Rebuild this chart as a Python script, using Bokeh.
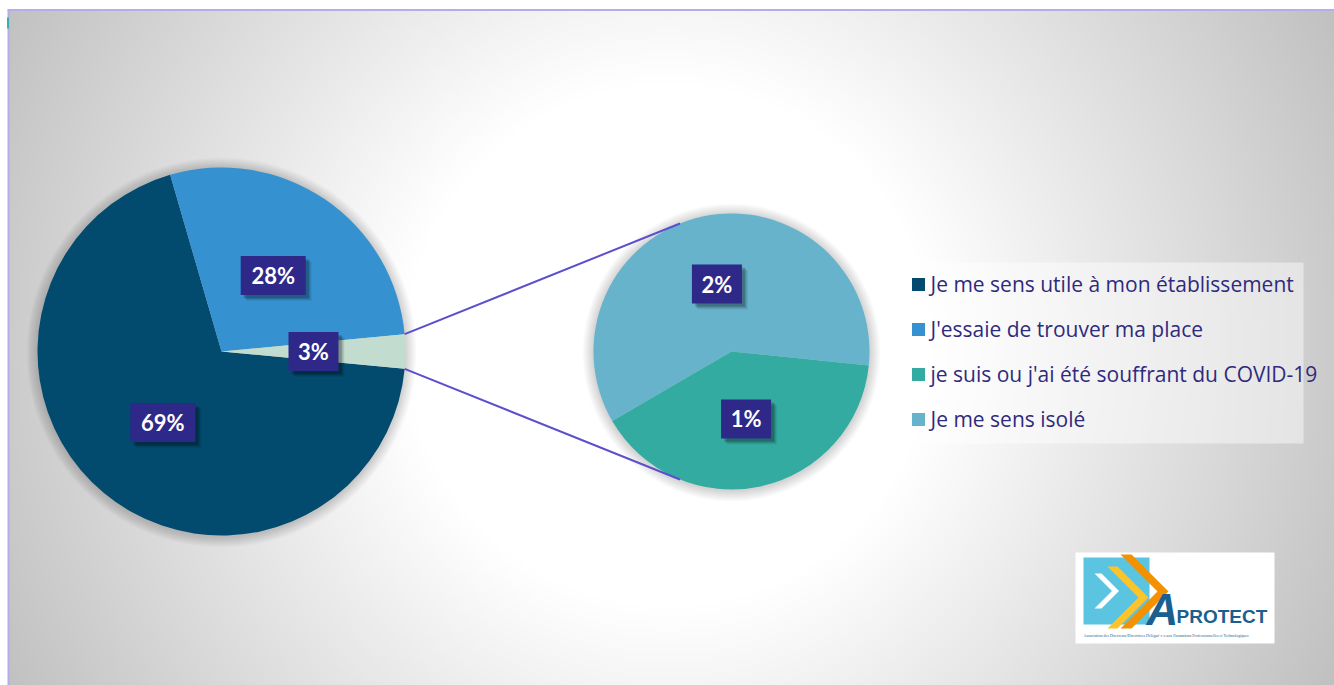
import numpy as np
from bokeh.plotting import figure
from bokeh.models import Range1d, ColumnDataSource
from bokeh.core.properties import value
from bokeh.embed import file_html
from bokeh.resources import INLINE

# ---------------- data ----------------
categories = [
    "Je me sens utile à mon établissement",
    "J'essaie de trouver ma place",
    "je suis ou j'ai été souffrant du COVID-19",
    "Je me sens isolé",
]
values = [69.0, 28.0, 1.2, 1.8]          # percent of respondents
colors = ["#034b6e", "#3591cf", "#34aba1", "#66b3cb"]
other_color = "#c2dccf"

logo_title = "PROTECT"
logo_letter = "A"
logo_sub = "Association des Directeurs/Directrices Délégué-e-s aux Formations Professionnelles et Technologiques"

# ---------------- geometry (reference pixel space, y down) ----------------
W, H = 1334, 685
def Y(y):
    return 685 - y

FONT = "Lato"
LEG_FONT = "Open Sans"
LABEL_BG = "#2e2889"
TEXT_COL = "#2f2a7d"
CONN_COL = "#5b4fcf"

p = figure(width=W, height=H, x_range=Range1d(0, 1334), y_range=Range1d(0, 685),
           output_backend="svg", toolbar_location=None, min_border=0,
           x_axis_location=None, y_axis_location=None)
p.grid.visible = False
p.outline_line_color = None
p.background_fill_color = "white"
p.border_fill_color = "white"

# background radial gradient
gw, gh = 333, 169
xs = np.linspace(8, 1334, gw)
ys = np.linspace(0, 675, gh)
XX, YY = np.meshgrid(xs, ys)
rr = np.hypot(XX - 668, (685 - YY) - 345)
g = np.clip(255 - 0.129 * np.maximum(rr - 265, 0), 0, 255).astype(np.uint8)
img = np.empty((gh, gw), dtype=np.uint32)
view = img.view(dtype=np.uint8).reshape((gh, gw, 4))
view[..., 0] = g
view[..., 1] = g
view[..., 2] = g
view[..., 3] = 255
p.image_rgba(image=[img], x=8, y=0, dw=1326, dh=675)

# frame border (left & top)
p.segment(x0=[8, 7], y0=[Y(9.5), Y(9.5)], x1=[8, 1334], y1=[0, Y(9.5)],
          line_color="#b4aee8", line_width=2)
p.rect(x=[7.5], y=[Y(22.5)], width=2, height=11, fill_color="#3ab0a8", line_color=None)

# ---------------- main pie ----------------
c1x, c1y, R1 = 221, Y(351), 184
main_vals = [values[0], values[1], values[2] + values[3]]
total = sum(main_vals)
other_frac = main_vals[2] / total
a_other0 = -np.pi * other_frac
a_other1 = np.pi * other_frac
a_b1 = a_other1 + 2 * np.pi * main_vals[1] / total
main_start = [a_b1, a_other1, a_other0]
main_end = [a_other0 + 2 * np.pi, a_b1, a_other1]
main_cols = [colors[0], colors[1], other_color]

# ---------------- secondary pie ----------------
c2x, c2y, R2 = 731, Y(351), 138
sec_vals = [values[3], values[2]]     # isolé, covid
sec_cols = [colors[3], colors[2]]
sec_tot = sum(sec_vals)
s0 = np.deg2rad(-5.8)
s1 = s0 + 2 * np.pi * sec_vals[0] / sec_tot
sec_start = [s0, s1]
sec_end = [s1, s0 + 2 * np.pi]

# soft shadows behind pies
for (cx, cy, R) in [(c1x, c1y, R1), (c2x, c2y, R2)]:
    for k in range(1, 12):
        p.circle(x=[cx], y=[cy - 1], radius=R + k, fill_color="black",
                 fill_alpha=0.015, line_color=None)

p.wedge(source=ColumnDataSource(dict(x=[c1x] * 3, y=[c1y] * 3, s=main_start, e=main_end, c=main_cols)),
        x="x", y="y", radius=R1, start_angle="s", end_angle="e",
        fill_color="c", line_color=None)
p.wedge(source=ColumnDataSource(dict(x=[c2x] * 2, y=[c2y] * 2, s=sec_start, e=sec_end, c=sec_cols)),
        x="x", y="y", radius=R2, start_angle="s", end_angle="e",
        fill_color="c", line_color=None)

# connector lines: tangents from edges of "other" slice to secondary pie
seg = dict(x0=[], y0=[], x1=[], y1=[])
for ang, sign in [(a_other1, -1), (a_other0, 1)]:
    px, py = c1x + R1 * np.cos(ang), c1y + R1 * np.sin(ang)
    dx, dy = px - c2x, py - c2y
    d = np.hypot(dx, dy)
    phi = np.arctan2(dy, dx)
    th = np.arccos(R2 / d)
    t = phi + sign * th
    seg["x0"].append(px); seg["y0"].append(py)
    seg["x1"].append(c2x + R2 * np.cos(t)); seg["y1"].append(c2y + R2 * np.sin(t))
p.segment(source=ColumnDataSource(seg), x0="x0", y0="y0", x1="x1", y1="y1",
          line_color=CONN_COL, line_width=2)

# ---------------- data labels ----------------
lx, ly, lt = [], [], []
for s, e, v in zip(main_start, main_end, main_vals):
    m = (s + e) / 2
    lx.append(c1x + 0.5 * R1 * np.cos(m)); ly.append(c1y + 0.5 * R1 * np.sin(m))
    lt.append(f"{round(v)}%")
for s, e, v in zip(sec_start, sec_end, sec_vals):
    m = (s + e) / 2
    lx.append(c2x + 0.5 * R2 * np.cos(m)); ly.append(c2y + 0.5 * R2 * np.sin(m))
    lt.append(f"{round(v)}%")
lw = [20 + 15 * len(t) for t in lt]
for k, a in [(6, 0.06), (5, 0.08), (4, 0.12), (3, 0.15)]:
    p.rect(x=[x + k for x in lx], y=[y - k for y in ly], width=lw, height=39,
           fill_color="black", fill_alpha=a, line_color=None)
p.rect(x=lx, y=ly, width=lw, height=39, fill_color=LABEL_BG, line_color=None)
p.text(x=lx, y=ly, text=lt, text_align="center", text_baseline="middle",
       text_color="white", text_font=value(FONT), text_font_style="bold",
       text_font_size="22px")

# ---------------- legend ----------------
p.rect(x=[1101], y=[Y(352.5)], width=404, height=181, fill_color="white",
       fill_alpha=0.45, line_color=None)
leg_y = [Y(284 + 45 * i) for i in range(len(categories))]
p.rect(x=[918] * len(categories), y=leg_y, width=13, height=13,
       fill_color=colors, line_color=None)
p.text(x=[930] * len(categories), y=[y + 1 for y in leg_y], text=categories, text_align="left",
       text_baseline="middle", text_color=TEXT_COL, text_font=value(LEG_FONT),
       text_font_size="21px")

# ---------------- logo ----------------
p.rect(x=[1174.5], y=[Y(597.5)], width=199, height=91, fill_color="white", line_color=None)
p.rect(x=[1116], y=[Y(590.5)], width=66, height=67, fill_color="#5bc4e1", line_color=None)

def chevron(x0, ytop, ybot, t):
    h = (ybot - ytop) / 2
    yc = (ytop + ybot) / 2
    return ([x0, x0 + t, x0 + t + h, x0 + t, x0, x0 + h],
            [Y(ytop), Y(ytop), Y(yc), Y(ybot), Y(ybot), Y(yc)])

chev = [chevron(1120, 554, 628, 11), chevron(1107, 566, 628, 10), chevron(1094, 573, 608, 7)]
p.patches(xs=[c[0] for c in chev], ys=[c[1] for c in chev],
          fill_color=["#f39200", "#f9c42c", "white"], line_color=None)
p.text(x=[1146], y=[Y(609)], text=[logo_letter], text_align="left", text_baseline="middle",
       text_color="#1a5f8e", text_font=value("Liberation Sans"), text_font_style="bold italic",
       text_font_size="44px")
p.text(x=[1176], y=[Y(616)], text=[logo_title], text_align="left", text_baseline="middle",
       text_color="#1a5f8e", text_font=value("Liberation Sans"), text_font_style="bold",
       text_font_size="19px")
p.text(x=[1083], y=[Y(634.5)], text=[logo_sub], text_align="left", text_baseline="middle",
       text_color="#1a5f8e", text_font=value("Liberation Sans Narrow"),
       text_font_size="4px")

open("out.html", "w").write(file_html(p, INLINE))
